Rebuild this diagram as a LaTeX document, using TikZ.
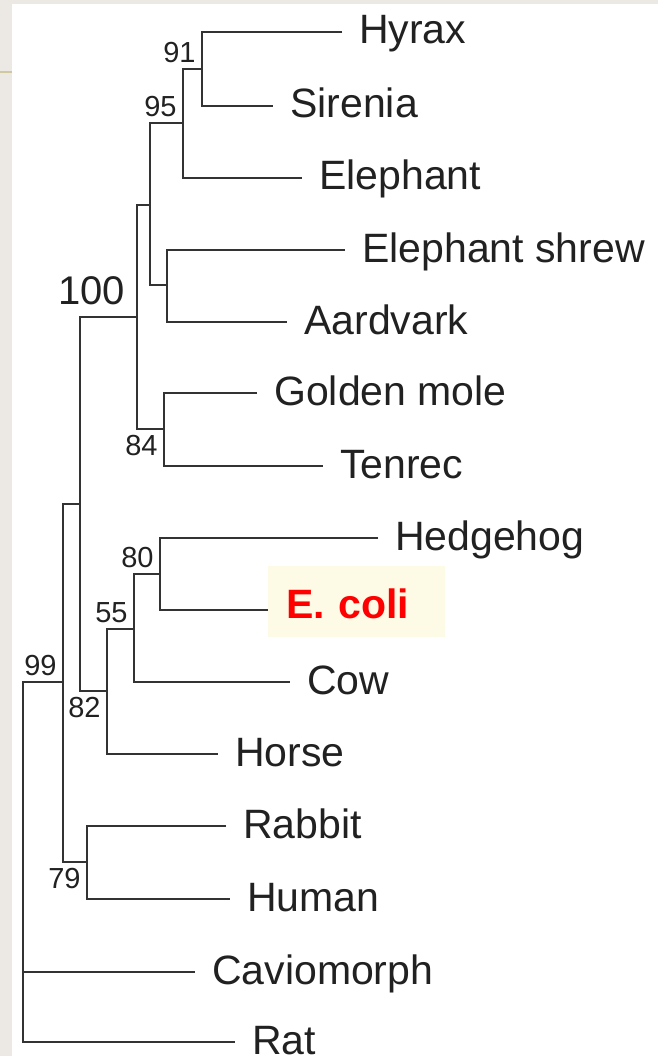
\documentclass[tikz,border=0pt]{standalone}
\usepackage{fontspec}
\setmainfont{Liberation Sans}
\definecolor{panel}{HTML}{ECE8E3}
\definecolor{rulecol}{HTML}{CFC8A0}
\definecolor{branchgray}{HTML}{333333}
\definecolor{notecream}{HTML}{FDFBE6}
\begin{document}
\begin{tikzpicture}
            [x=1pt,y=-1pt,
             leaf/.style={anchor=west,inner xsep=17pt,inner ysep=0,text height=24pt,text depth=0pt,font=\fontsize{41}{41}\selectfont,text=black!87},
             boot/.style={inner sep=2pt,font=\fontsize{29}{29}\selectfont,text=black!87},
             every label/.style={boot}, label distance=6pt,
             branch/.style={line width=2.6pt,branchgray}]

            \useasboundingbox (0,0) rectangle (658,1056);
            \fill[panel] (0,0) rectangle (658,1056);
            \fill[white] (12,4) rectangle (658,1056);
            \draw[rulecol,line width=1.5pt] (0,72) -- (12,72);

            % taxa
            \node[leaf] (hyrax) at (342, 32) {Hyrax};
            \node[leaf] (sirenia) at (273, 106) {Sirenia};
            \node[leaf] (elephant) at (302, 178) {Elephant};
            \node[leaf] (eshrew) at (345, 250) {Elephant shrew};
            \node[leaf] (aardvark) at (287, 322) {Aardvark};
            \node[leaf] (golden) at (257, 393) {Golden mole};
            \node[leaf] (tenrec) at (323, 466) {Tenrec};
            \node[leaf] (hedgehog) at (378, 538) {Hedgehog};
            \node[leaf,fill=notecream,text width=141pt,align=left,inner xsep=18pt,text height=52pt,text depth=19pt,font=\fontsize{41}{41}\selectfont\bfseries,text=red] (ecoli) at (268, 601.5) {E. coli};
            \node[leaf] (cow) at (290, 682) {Cow};
            \node[leaf] (horse) at (218, 754) {Horse};
            \node[leaf] (rabbit) at (226, 826) {Rabbit};
            \node[leaf] (human) at (230, 899) {Human};
            \node[leaf] (cavio) at (195, 972) {Caviomorph};
            \node[leaf] (rat) at (235, 1042) {Rat};

            % inner nodes
            \coordinate[label=above left:91] (n91) at (202, 69);
            \coordinate[label=above left:95] (n95) at (183, 123);
            \coordinate (nES) at (167, 285);
            \coordinate (nPae) at (150, 205);
            \coordinate[label={[font=\fontsize{40}{40}\selectfont,label distance=14pt]above left:100}] (n100) at (137, 317);
            \coordinate[label=below left:84] (n84) at (164, 429);
            \coordinate[label=above left:80] (n80) at (160, 574);
            \coordinate[label=above left:55] (n55) at (134, 629);
            \coordinate[label=below left:82] (n82) at (107, 691);
            \coordinate (nBor) at (80, 504);
            \coordinate[label=below left:79] (n79) at (87, 862);
            \coordinate[label=above left:99] (n99) at (63, 682);
            \coordinate (root) at (23, 972);

            \draw[branch] (hyrax.west) -| (n91) |- (sirenia.west);
            \draw[branch] (n91) -| (n95) |- (elephant.west);
            \draw[branch] (eshrew.west) -| (nES) |- (aardvark.west);
            \draw[branch] (n95) -| (nPae) |- (nES);
            \draw[branch] (nPae) -| (n100) |- (n84);
            \draw[branch] (golden.west) -| (n84) |- (tenrec.west);
            \draw[branch] (n100) -| (nBor) |- (n82);
            \draw[branch] (hedgehog.west) -| (n80) |- ([yshift=-8.5pt]ecoli.west);
            \draw[branch] (n80) -| (n55) |- (cow.west);
            \draw[branch] (n55) -| (n82) |- (horse.west);
            \draw[branch] (nBor) -| (n99) |- (n79);
            \draw[branch] (rabbit.west) -| (n79) |- (human.west);
            \draw[branch] (n99) -| (root) |- (rat.west);
            \draw[branch] (root) -- (cavio.west);
          \end{tikzpicture}
\end{document}
